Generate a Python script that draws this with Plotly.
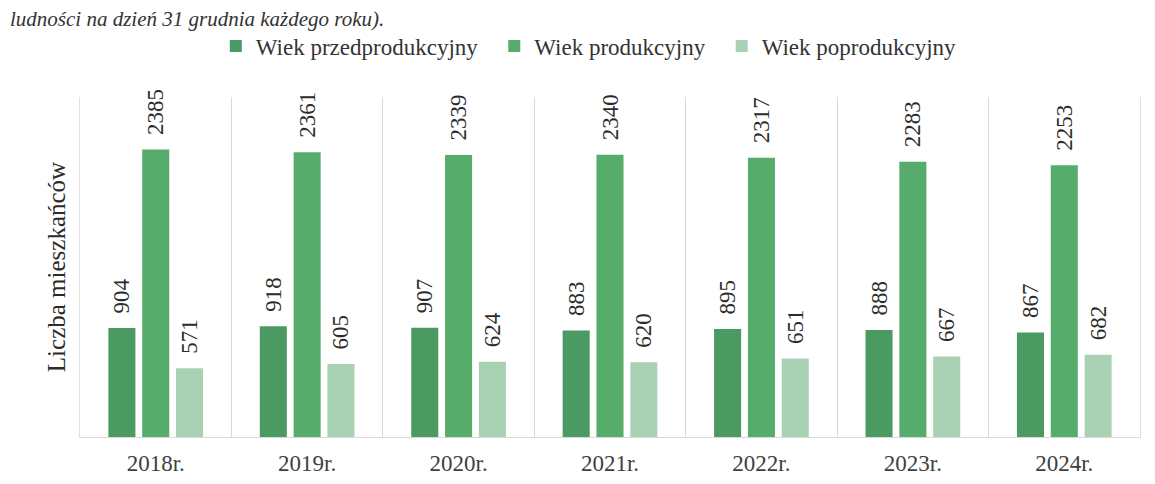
import plotly.graph_objects as go

years = ["2018r.", "2019r.", "2020r.", "2021r.", "2022r.", "2023r.", "2024r."]
przed = [904, 918, 907, 883, 895, 888, 867]
prod = [2385, 2361, 2339, 2340, 2317, 2283, 2253]
popr = [571, 605, 624, 620, 651, 667, 682]

series = [
    ("Wiek przedprodukcyjny\u00a0\u00a0", przed, "#4b9a62"),
    ("Wiek produkcyjny\u00a0\u00a0", prod, "#56ad6b"),
    ("Wiek poprodukcyjny", popr, "#a9d2b5"),
]

FONT = "Liberation Serif, Times New Roman, serif"
fig = go.Figure()
for name, vals, col in series:
    fig.add_trace(go.Bar(
        x=years, y=vals, name=name, marker_color=col, marker_line_width=0,
        text=["\u00a0\u00a0" + str(v) for v in vals],
        textposition="outside", textangle=-90, cliponaxis=False,
        constraintext="none",
        textfont=dict(family=FONT, size=23, color="#2b2b2b"),
    ))

fig.update_layout(
    width=1147, height=476,
    margin=dict(l=72, r=15, t=89, b=47, autoexpand=False),
    paper_bgcolor="white", plot_bgcolor="white",
    barmode="group", bargap=0.33, bargroupgap=0.2,
    font=dict(family=FONT, size=23, color="#333333"),
    legend=dict(orientation="h", x=0.480, xanchor="center", y=1.15, yanchor="middle",
                font=dict(family=FONT, size=23, color="#333333"),
                itemwidth=30, traceorder="normal"),
    xaxis=dict(tickson="boundaries", showgrid=True, gridcolor="#d9d9d9", gridwidth=1,
               showline=True, linecolor="#d9d9d9", linewidth=1, ticks="",
               ticklabelstandoff=5, automargin=False,
               tickfont=dict(family=FONT, size=23, color="#404040")),
    yaxis=dict(range=[0, 2820], showgrid=False, zeroline=False, showticklabels=False,
               showline=True, mirror=True, linecolor="#e0e0e0", linewidth=1, ticks="",
               automargin=False,
               title=dict(text="Liczba mieszkańców", standoff=6,
                          font=dict(family=FONT, size=25, color="#2b2b2b"))),
    showlegend=True,
)

fig.add_annotation(
    text="<i>ludności na dzień 31 grudnia każdego roku).</i>",
    xref="paper", yref="paper", x=-72 / 1060, y=1 + (89 - 11) / 340,
    xanchor="left", yanchor="middle",
    showarrow=False, font=dict(family=FONT, size=21, color="#333333"),
)

fig.write_html("out.html")
